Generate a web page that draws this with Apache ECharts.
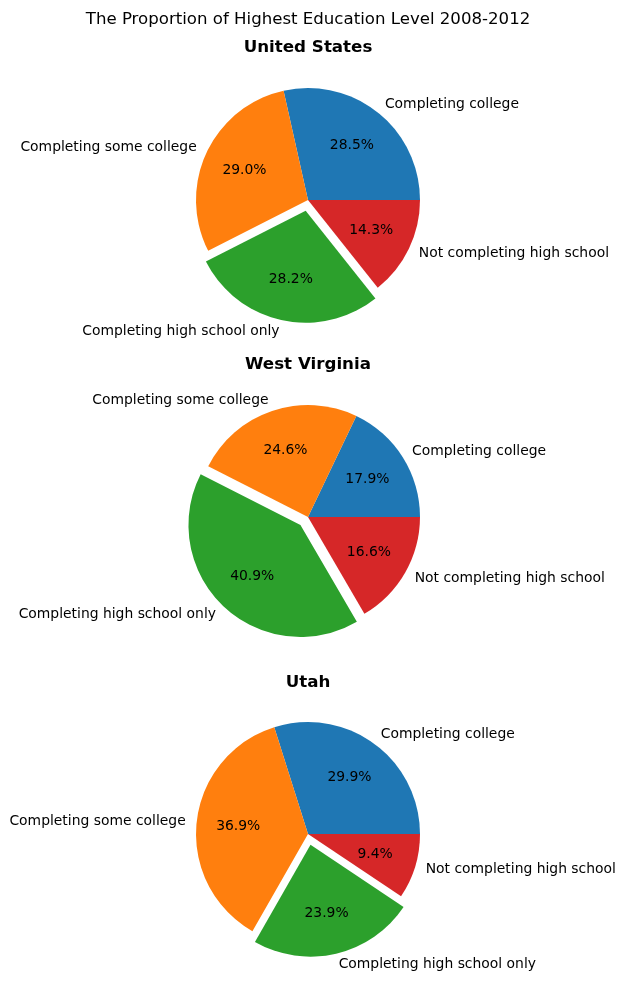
<!DOCTYPE html>
<html lang="en">
<head>
    <meta charset="UTF-8">
    <title>Highest Education Level</title>
    <style>
        html, body { margin: 0; padding: 0; background: #fff; }
    </style>
</head>
<body>
<div id="main" style="width: 626px;height:985px;"></div>
<script type="text/javascript" src="https://cdn.jsdelivr.net/npm/echarts@6/dist/echarts.min.js"></script>
<script type="text/javascript">

    // 数据
    var categories = ['Completing college', 'Completing some college', 'Completing high school only', 'Not completing high school'];
    var colors = ['#1f77b4', '#ff7f0e', '#2ca02c', '#d62728'];
    var regions = ['United States', 'West Virginia', 'Utah'];
    var usValues = [28.5, 29.0, 28.2, 14.3];
    var wvValues = [17.9, 24.6, 40.9, 16.6];
    var utValues = [29.9, 36.9, 23.9, 9.4];
    var allValues = [usValues, wvValues, utValues];
    var exploded = 'Completing high school only';

    var myChart = echarts.init(document.getElementById('main'));

    var R = 112;
    var CX = 308;
    var centersY = [200, 517, 834];
    var titleY = [48, 365, 683];
    var font = 'DejaVu Sans';

    // 标题用 graphic 文本，以 x=CX 为中心
    var texts = [{
        type: 'text',
        x: CX,
        y: 20,
        style: {
            text: 'The Proportion of Highest Education Level 2008-2012',
            align: 'center',
            verticalAlign: 'middle',
            font: 'normal 16.6px "DejaVu Sans"',
            fill: '#000'
        }
    }];
    var series = [];

    for (var i = 0; i < regions.length; i++) {
        texts.push({
            type: 'text',
            x: CX,
            y: titleY[i],
            style: {
                text: regions[i],
                align: 'center',
                verticalAlign: 'middle',
                font: 'bold 16.7px "DejaVu Sans"',
                fill: '#000'
            }
        });

        var data = categories.map(function (c, k) {
            return {
                name: c,
                value: allValues[i][k],
                selected: c === exploded,
                itemStyle: { color: colors[k] }
            };
        });
        var pctData = categories.map(function (c, k) {
            return {
                name: c,
                value: allValues[i][k],
                selected: c === exploded
            };
        });

        // 扇区 + 外侧类别标签
        series.push({
            type: 'pie',
            center: [CX, centersY[i]],
            radius: [0, R],
            startAngle: 0,
            clockwise: false,
            selectedMode: 'multiple',
            selectedOffset: 11,
            avoidLabelOverlap: false,
            silent: true,
            animation: false,
            itemStyle: { borderWidth: 0 },
            label: {
                show: true,
                position: 'outside',
                distanceToLabelLine: 0,
                fontFamily: font,
                fontSize: 13.9,
                color: '#000',
                formatter: '{b}'
            },
            labelLine: { show: false, length: 11, length2: 0 },
            emphasis: { disabled: true },
            data: data
        });

        // 百分比标签 (半径 0.6R 处)
        series.push({
            type: 'pie',
            center: [CX, centersY[i]],
            radius: [0, R * 1.2],
            startAngle: 0,
            clockwise: false,
            selectedMode: 'multiple',
            selectedOffset: 11,
            avoidLabelOverlap: false,
            silent: true,
            animation: false,
            itemStyle: { color: 'rgba(0,0,0,0)', borderWidth: 0 },
            label: {
                show: true,
                position: 'inside',
                fontFamily: font,
                fontSize: 13.9,
                color: '#000',
                formatter: function (p) { return p.value.toFixed(1) + '%'; }
            },
            labelLine: { show: false },
            emphasis: { disabled: true },
            data: pctData
        });
    }

    myChart.setOption({
        animation: false,
        graphic: texts,
        series: series
    });
</script>
</body>
</html>
